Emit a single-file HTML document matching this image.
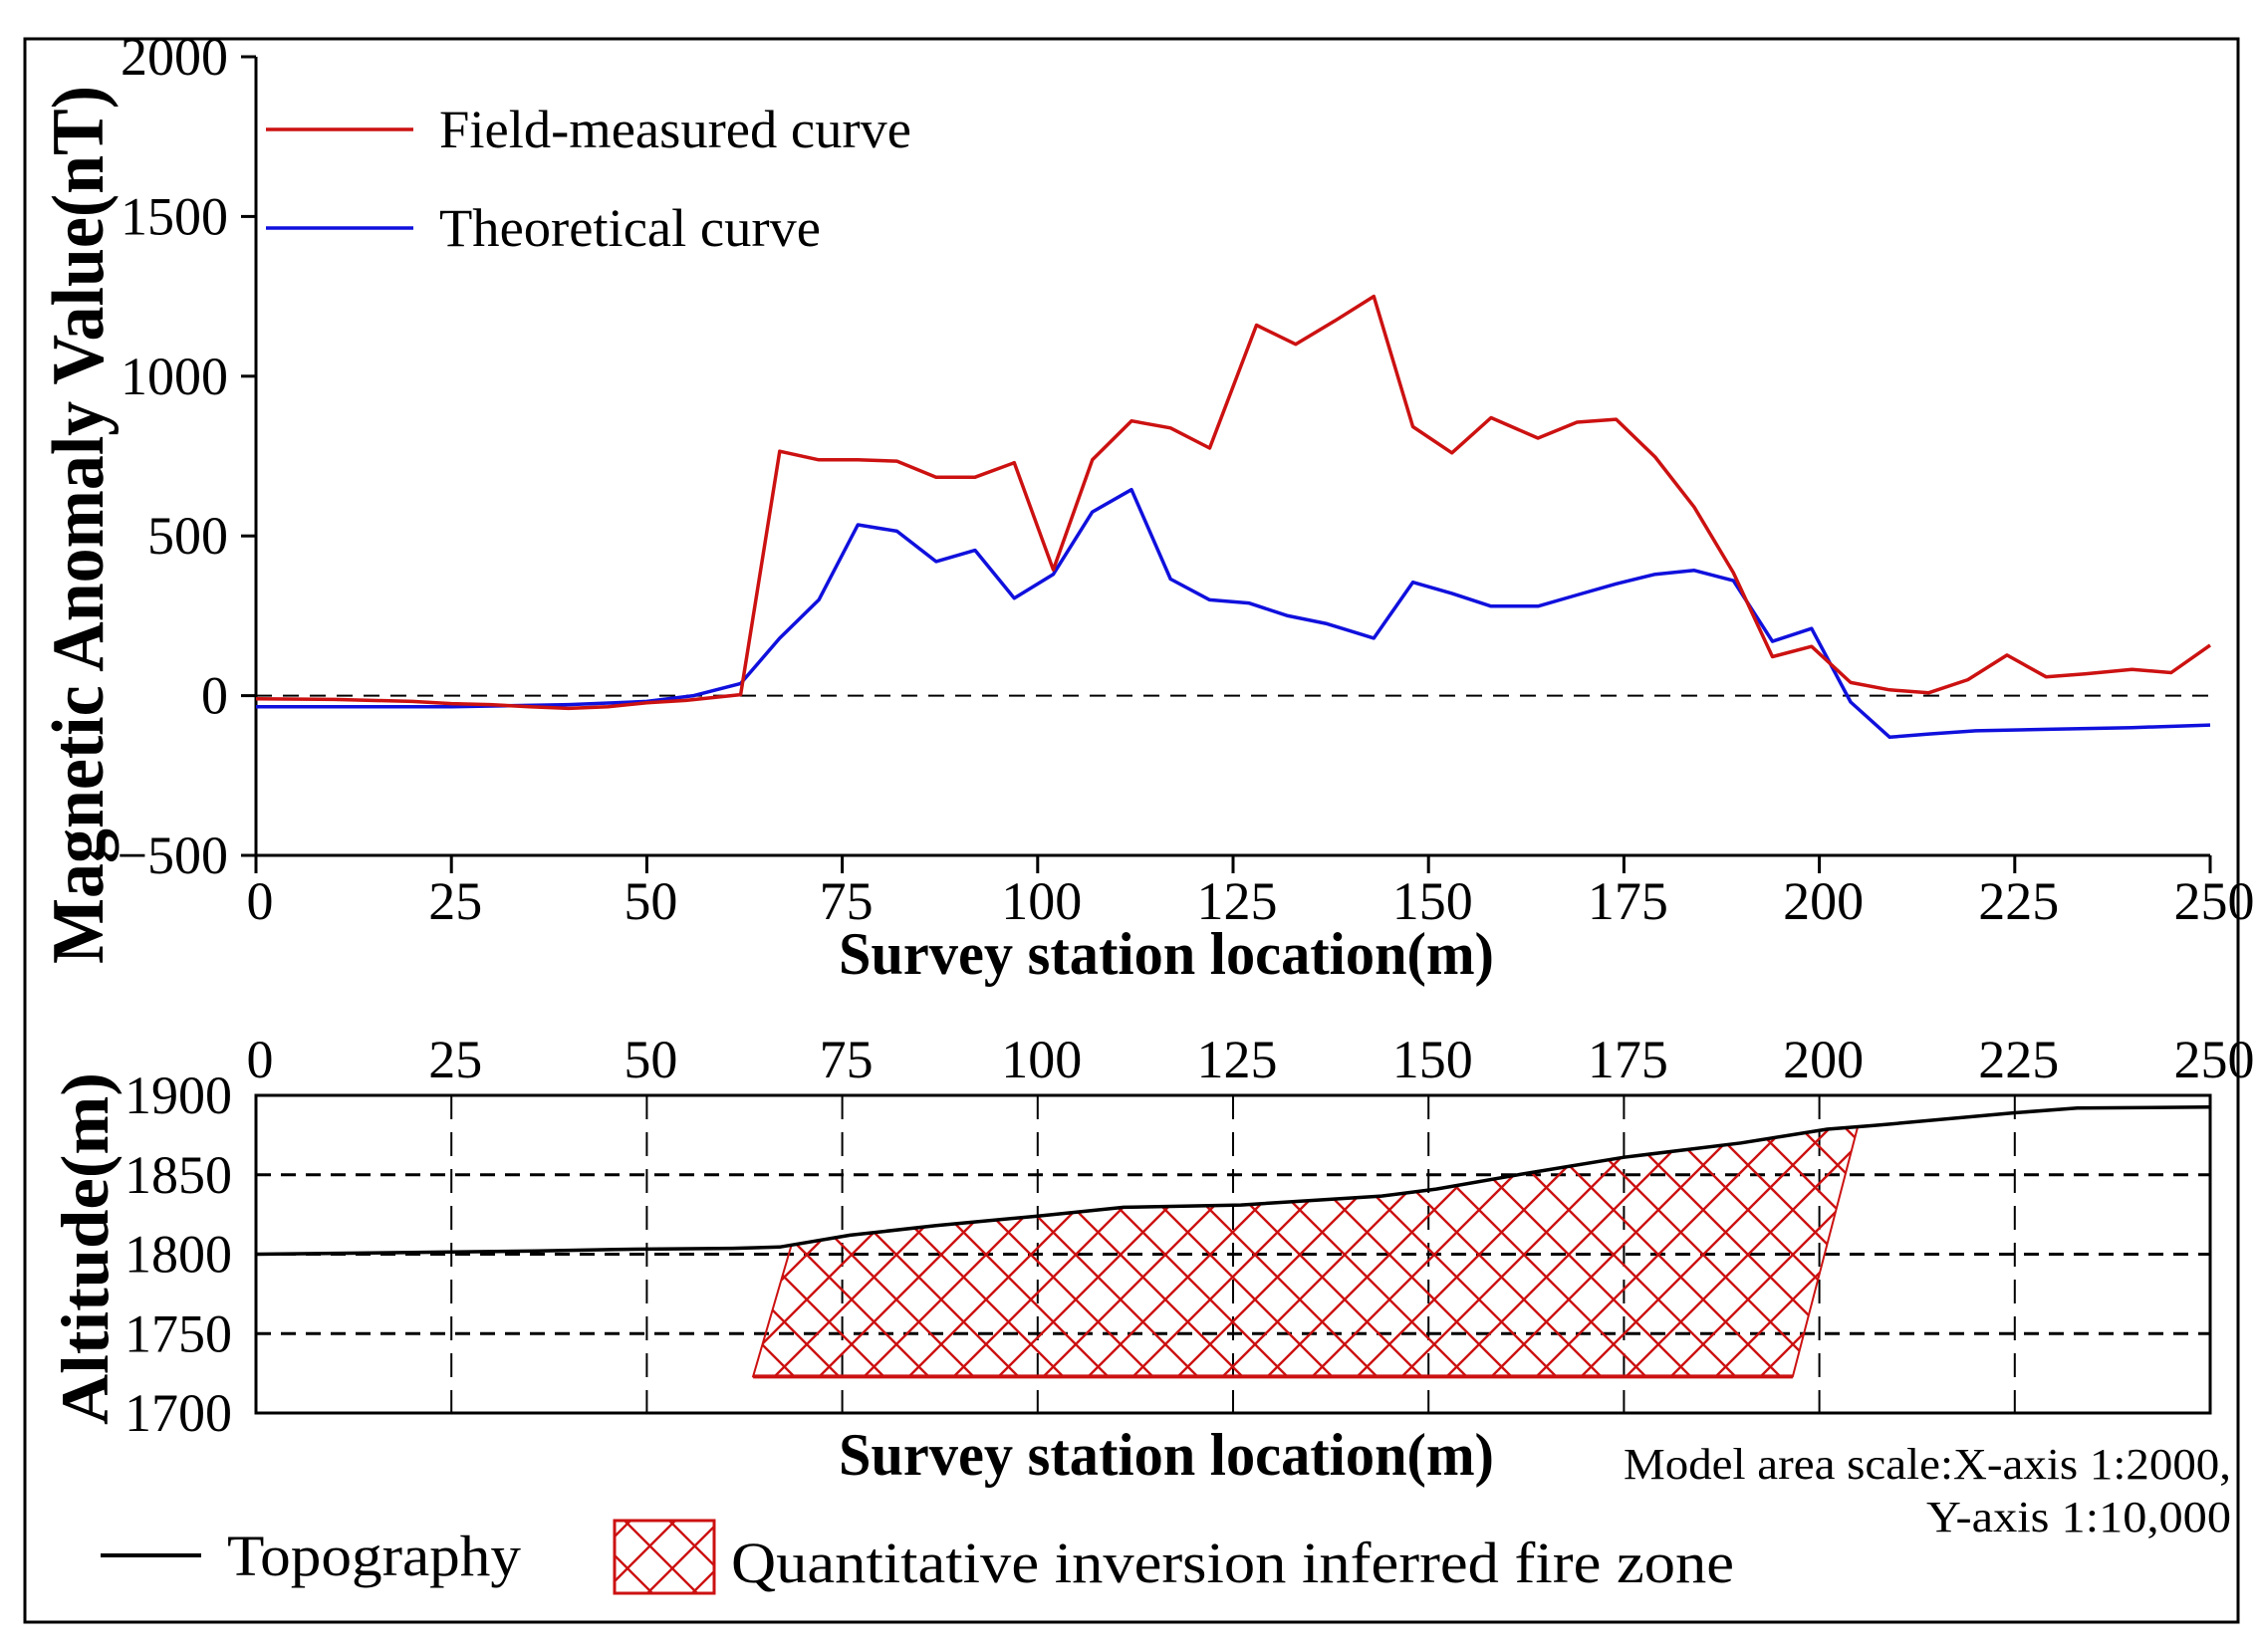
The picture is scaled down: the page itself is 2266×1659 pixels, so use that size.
<!DOCTYPE html>
<html><head><meta charset="utf-8"><style>
html,body{margin:0;padding:0;background:#fff}
svg{display:block}
text{font-family:"Liberation Serif",serif;fill:#000}
</style></head><body>
<svg id="c" width="2266" height="1659" xmlns="http://www.w3.org/2000/svg">
<defs>
<pattern id="hatch" patternUnits="userSpaceOnUse" width="45" height="45" x="0" y="0">
<path d="M0,0 L45,45 M45,0 L0,45" stroke="#cc1111" stroke-width="2.4" fill="none"/>
</pattern>
</defs>
<rect x="25" y="39" width="2222" height="1590" fill="none" stroke="#000" stroke-width="3"/>
<g id="gtop"></g>
<g id="gbot"></g>
<g>
<line x1="267" y1="130" x2="415" y2="130" stroke="#cc1111" stroke-width="3.5"/>
<text x="441" y="148" font-size="54" textLength="474" lengthAdjust="spacingAndGlyphs">Field-measured curve</text>
<line x1="267" y1="229" x2="415" y2="229" stroke="#1010dd" stroke-width="3.5"/>
<text x="441" y="247" font-size="54" textLength="383" lengthAdjust="spacingAndGlyphs">Theoretical curve</text>
</g>
<g>
<line x1="101" y1="1562" x2="202" y2="1562" stroke="#000" stroke-width="4"/>
<text x="228" y="1582" font-size="58" textLength="295" lengthAdjust="spacingAndGlyphs">Topography</text>
<rect x="617" y="1527" width="100" height="73" fill="url(#hatch)" stroke="#cc1111" stroke-width="3"/>
<text x="734" y="1589" font-size="58" textLength="1007" lengthAdjust="spacingAndGlyphs">Quantitative inversion inferred fire zone</text>
<text x="2240" y="1485" font-size="44" text-anchor="end" textLength="610" lengthAdjust="spacingAndGlyphs">Model area scale:X-axis 1:2000,</text>
<text x="2240" y="1538" font-size="44" text-anchor="end" textLength="306" lengthAdjust="spacingAndGlyphs">Y-axis  1:10,000</text>
</g>
</svg>
<script>
const NS='http://www.w3.org/2000/svg';
const xTicks=[0,25,50,75,100,125,150,175,200,225,250];
const yTicksTop=[-500,0,500,1000,1500,2000];
const yTicksBot=[1700,1750,1800,1850,1900];
const fieldX=[0,10,20,25,30,35,40,45,50,55,62,67,72,77,82,87,92,97,102,107,112,117,122,128,133,138,143,148,153,158,164,169,174,179,184,189,194,199,204,209,214,219,224,229,234,240,245,250];
const fieldY=[-10,-12,-18,-25,-28,-35,-40,-35,-22,-15,3,765,738,738,734,684,684,729,394,738,860,838,775,1160,1100,1173,1250,842,760,870,806,856,865,747,590,385,122,154,41,18,9,50,127,59,68,82,72,158];
const theoX=[0,25,40,50,56,62,67,72,77,82,87,92,97,102,107,112,117,122,127,132,137,143,148,153,158,164,169,174,179,184,189,194,199,204,209,214,220,230,240,250];
const theoY=[-35,-35,-28,-18,0,38,180,300,535,515,420,455,305,380,575,645,365,300,290,250,225,180,355,320,280,280,315,350,380,392,360,170,210,-20,-130,-120,-110,-105,-100,-92];
const topoX=[0,36,46,61,67,76,87,100,111,126,144,151,162,175,190,201,207,225,233,250];
const topoY=[1800,1802,1803,1803.7,1804.5,1812,1818,1824,1829.5,1831,1836.6,1841,1850.5,1861,1870,1878.7,1881,1889,1892,1892.6];
const zoneBottom=1723;
const zoneLeft=[63.6,68.5];
const zoneRight=[196.6,204.9];

const X0=257,X1=2219;
const sx=v=>X0+(v-0)/(250-0)*(X1-X0);
const T0=57,T1=859; const syT=v=>T0+(2000-v)/(2500)*(T1-T0);
const B0=1100,B1=1419; const syB=v=>B0+(1900-v)/200*(B1-B0);
const gTop=document.getElementById('gtop'), gBot=document.getElementById('gbot');
function mk(tag,attrs,parent){const e=document.createElementNS(NS,tag);for(const k in attrs)e.setAttribute(k,attrs[k]);parent.appendChild(e);return e;}

let e;
e=mk('line',{x1:X0,y1:T0,x2:X0,y2:T1,stroke:'#000','stroke-width':3},gTop);


e=mk('line',{x1:X0,y1:T1,x2:X1,y2:T1,stroke:'#000','stroke-width':3},gTop);


e=mk('line',{x1:X0,y1:syT(0),x2:X1,y2:syT(0),stroke:'#000','stroke-width':2,'stroke-dasharray':'16,11'},gTop);


yTicksTop.forEach(v=>{
 e=mk('line',{x1:X0-15,y1:syT(v),x2:X0,y2:syT(v),stroke:'#000','stroke-width':3},gTop);
 
 
 e=mk('text',{x:X0-28,y:syT(v)+18,'font-size':54,'text-anchor':'end'},gTop);
 e.textContent=(v<0?'\u2212'+(-v):String(v));
 
 
});
xTicks.forEach(v=>{
 e=mk('line',{x1:sx(v),y1:T1,x2:sx(v),y2:T1+18,stroke:'#000','stroke-width':3},gTop);
 
 
 e=mk('text',{x:sx(v)+4,y:923,'font-size':54,'text-anchor':'middle'},gTop);
 e.textContent=String(v);
 
 
});
e=mk('text',{x:1171,y:978,'font-size':60,'font-weight':'bold','text-anchor':'middle',textLength:658,lengthAdjust:'spacingAndGlyphs'},gTop);
e.textContent='Survey station location(m)';


e=mk('text',{x:0,y:0,'font-size':74,'font-weight':'bold','text-anchor':'middle',textLength:882,lengthAdjust:'spacingAndGlyphs',transform:'translate(103,527) rotate(-90)'},gTop);
e.textContent='Magnetic Anomaly Value(nT)';


function pts(xs,ys,fy){return xs.map((x,i)=>sx(x).toFixed(1)+','+fy(ys[i]).toFixed(1)).join(' ');}
e=mk('polyline',{points:pts(theoX,theoY,syT),fill:'none',stroke:'#1010dd','stroke-width':3.5,'stroke-linejoin':'round'},gTop);


e=mk('polyline',{points:pts(fieldX,fieldY,syT),fill:'none',stroke:'#cc1111','stroke-width':3.5,'stroke-linejoin':'round'},gTop);



xTicks.forEach(v=>{
 if(v>0&&v<250){
  e=mk('line',{x1:sx(v),y1:B0,x2:sx(v),y2:B1,stroke:'#000','stroke-width':2,'stroke-dasharray':'24,13'},gBot);
  
  
 }
 e=mk('text',{x:sx(v)+4,y:1082,'font-size':54,'text-anchor':'middle'},gBot);
 e.textContent=String(v);
 
 
});
yTicksBot.forEach(v=>{
 if(v>1700&&v<1900){
  e=mk('line',{x1:X0,y1:syB(v),x2:X1,y2:syB(v),stroke:'#000','stroke-width':3,'stroke-dasharray':'15,10'},gBot);
  
  
 }
 e=mk('text',{x:233,y:syB(v)+18,'font-size':54,'text-anchor':'end'},gBot);
 e.textContent=String(v);
 
 
});
function topoAt(s){for(let i=1;i<topoX.length;i++){if(s<=topoX[i]){const t=(s-topoX[i-1])/(topoX[i]-topoX[i-1]);return topoY[i-1]+t*(topoY[i]-topoY[i-1]);}}return topoY[topoY.length-1];}
let poly=[[zoneLeft[0],zoneBottom],[zoneLeft[1],topoAt(zoneLeft[1])]];
topoX.forEach((x,i)=>{if(x>zoneLeft[1]&&x<zoneRight[1])poly.push([x,topoY[i]]);});
poly.push([zoneRight[1],topoAt(zoneRight[1])]);
poly.push([zoneRight[0],zoneBottom]);
e=mk('polygon',{points:poly.map(p=>sx(p[0]).toFixed(1)+','+syB(p[1]).toFixed(1)).join(' '),fill:'url(#hatch)',stroke:'#cc1111','stroke-width':2},gBot);


e=mk('line',{x1:sx(zoneLeft[0]),y1:syB(zoneBottom),x2:sx(zoneRight[0]),y2:syB(zoneBottom),stroke:'#cc1111','stroke-width':4},gBot);


e=mk('polyline',{points:pts(topoX,topoY,syB),fill:'none',stroke:'#000','stroke-width':3.5},gBot);


e=mk('rect',{x:X0,y:B0,width:X1-X0,height:B1-B0,fill:'none',stroke:'#000','stroke-width':3},gBot);


e=mk('text',{x:1171,y:1481,'font-size':60,'font-weight':'bold','text-anchor':'middle',textLength:658,lengthAdjust:'spacingAndGlyphs'},gBot);
e.textContent='Survey station location(m)';


e=mk('text',{x:0,y:0,'font-size':68,'font-weight':'bold','text-anchor':'middle',textLength:354,lengthAdjust:'spacingAndGlyphs',transform:'translate(108,1254) rotate(-90)'},gBot);
e.textContent='Altitude(m)';


</script>
</body></html>
